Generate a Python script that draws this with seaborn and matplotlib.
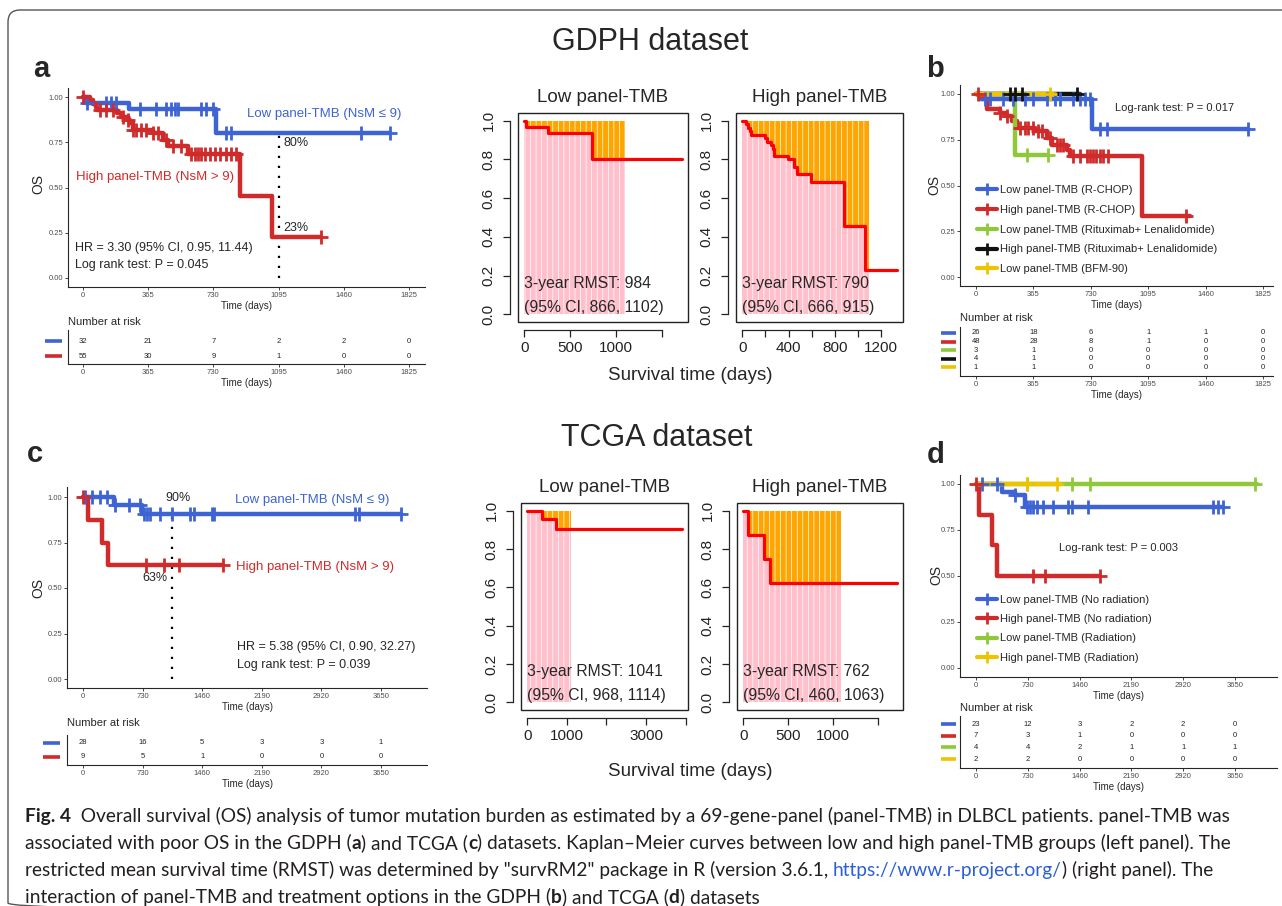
import numpy as np
import matplotlib
matplotlib.use("Agg")
import matplotlib.pyplot as plt
import matplotlib.transforms as mtransforms
from matplotlib.lines import Line2D
from matplotlib.patches import FancyBboxPatch, Rectangle
import seaborn as sns

sns.set_style("ticks")
plt.rcParams["font.family"] = ["Liberation Sans", "DejaVu Sans"]
plt.rcParams["hatch.color"] = "white"
plt.rcParams["hatch.linewidth"] = 0.5

# ==================== data ====================
# Kaplan-Meier steps: start time of each step (days), survival on that step,
# last follow-up time, censoring times
gdph_low_t = [0, 15, 255, 745]
gdph_low_s = [1.0, 0.967, 0.935, 0.80]
gdph_low_end = 1720
gdph_low_cens = [22, 131, 159, 187, 317, 411, 467, 495, 513, 532, 663, 691, 728, 803, 830, 1558, 1717]

gdph_high_t = [0, 37, 54, 71, 79, 193, 213, 250, 264, 278, 391, 448, 477, 590, 880, 1058]
gdph_high_s = [1.0, 0.982, 0.964, 0.945, 0.927, 0.909, 0.891, 0.873, 0.855, 0.82, 0.80, 0.763, 0.727,
               0.685, 0.455, 0.228]
gdph_high_end = 1334
gdph_high_cens = [0, 93, 131, 168, 224, 252, 280, 299, 327, 355, 392, 420, 467, 504, 551, 607, 625, 644,
                  663, 681, 709, 737, 765, 803, 830, 859, 1334]

# GDPH by treatment (panel b)
b_low_rchop_t = [0, 25, 735]
b_low_rchop_s = [1.0, 0.973, 0.81]
b_low_rchop_end = 1730
b_low_rchop_cens = [57, 89, 174, 237, 311, 364, 449, 502, 534, 618, 661, 692, 724, 788, 830, 1730]

b_high_rchop_t = [0, 36, 72, 152, 191, 227, 258, 375, 449, 481, 576, 597, 1057]
b_high_rchop_s = [1.0, 0.975, 0.918, 0.896, 0.878, 0.85, 0.814, 0.796, 0.76, 0.723, 0.696, 0.66, 0.332]
b_high_rchop_end = 1359
b_high_rchop_cens = [10, 152, 195, 279, 311, 332, 364, 396, 417, 470, 512, 534, 555, 618, 661, 703, 724,
                     745, 766, 788, 809, 841, 1338]

b_low_rl_t = [0, 248]
b_low_rl_s = [1.0, 0.667]
b_low_rl_end = 460
b_low_rl_cens = [322, 460]

b_high_rl_t = [0]
b_high_rl_s = [1.0]
b_high_rl_end = 660
b_high_rl_cens = [216, 248, 290, 640]

b_low_bfm_t = [0]
b_low_bfm_s = [1.0]
b_low_bfm_end = 502
b_low_bfm_cens = [470]

# TCGA
tcga_low_t = [0, 376, 723]
tcga_low_s = [1.0, 0.955, 0.904]
tcga_low_end = 3900
tcga_low_cens = [29, 110, 212, 294, 396, 559, 702, 743, 784, 825, 947, 1090, 1315, 1356, 1580, 1600,
                 3336, 3377, 3900]

tcga_high_t = [0, 57, 233, 302]
tcga_high_s = [1.0, 0.875, 0.75, 0.625]
tcga_high_end = 1715
tcga_high_cens = [0, 772, 988, 1172, 1715]

# TCGA by radiation (panel d)
d_low_norad_t = [0, 362, 550, 690]
d_low_norad_s = [1.0, 0.955, 0.94, 0.875]
d_low_norad_end = 3485
d_low_norad_cens = [80, 291, 550, 714, 761, 808, 855, 949, 1090, 1301, 1348, 1583, 3344, 3414, 3485]

d_high_norad_t = [0, 42, 221, 291]
d_high_norad_s = [1.0, 0.833, 0.667, 0.5]
d_high_norad_end = 1747
d_high_norad_cens = [0, 799, 972, 1747]

d_low_rad_t = [0]
d_low_rad_s = [1.0]
d_low_rad_end = 3955
d_low_rad_cens = [714, 1348, 1606, 3932]

d_high_rad_t = [0]
d_high_rad_s = [1.0]
d_high_rad_end = 1183
d_high_rad_cens = [714, 1137]

# numbers at risk
ticks_5y = [0, 365, 730, 1095, 1460, 1825]
ticks_10y = [0, 730, 1460, 2190, 2920, 3650]
risk_a = [[32, 21, 7, 2, 2, 0], [55, 30, 9, 1, 0, 0]]
risk_b = [[26, 18, 6, 1, 1, 0], [48, 28, 8, 1, 0, 0], [3, 1, 0, 0, 0, 0], [4, 1, 0, 0, 0, 0],
          [1, 1, 0, 0, 0, 0]]
risk_c = [[28, 16, 5, 3, 3, 1], [9, 5, 1, 0, 0, 0]]
risk_d = [[23, 12, 3, 2, 2, 0], [7, 3, 1, 0, 0, 0], [4, 4, 2, 1, 1, 1], [2, 2, 0, 0, 0, 0]]

labels_b = ["Low panel-TMB (R-CHOP)", "High panel-TMB (R-CHOP)", "Low panel-TMB (Rituximab+ Lenalidomide)",
            "High panel-TMB (Rituximab+ Lenalidomide)", "Low panel-TMB (BFM-90)"]
labels_d = ["Low panel-TMB (No radiation)", "High panel-TMB (No radiation)", "Low panel-TMB (Radiation)",
            "High panel-TMB (Radiation)"]

TAU = 1095  # 3-year RMST horizon
rmst_gdph = [("Low panel-TMB", "3-year RMST: 984", "(95% CI, 866, 1102)"),
             ("High panel-TMB", "3-year RMST: 790", "(95% CI, 666, 915)")]
rmst_tcga = [("Low panel-TMB", "3-year RMST: 1041", "(95% CI, 968, 1114)"),
             ("High panel-TMB", "3-year RMST: 762", "(95% CI, 460, 1063)")]

# ==================== style ====================
BLUE = "#3D63D4"
RED = "#D02A2A"
GREEN = "#8FC93A"
BLACK = "#111111"
GOLD = "#EEC400"
PINK = "#FFC0CB"
ORANGE = "#FFA500"
TXT = "#4D4D4D"
CAP_FONT = ["Lato", "DejaVu Sans"]

W, H = 1282, 906
fig = plt.figure(figsize=(W / 100, H / 100), dpi=100)

overlay = fig.add_axes([0, 0, 1, 1])
overlay.set_xlim(0, W)
overlay.set_ylim(H, 0)
overlay.axis("off")


def px_axes(left, top, right, bottom):
    return fig.add_axes([left / W, 1 - bottom / H, (right - left) / W, (bottom - top) / H])


def fit_limits(ax, box, x0px, x1px, x1val, y1px, y0px):
    left, top, right, bottom = box
    kx = (x1px - x0px) / x1val
    ax.set_xlim((left - x0px) / kx, (right - x0px) / kx)
    ky = y0px - y1px
    ax.set_ylim((y0px - bottom) / ky, (y0px - top) / ky)


def steps(t, s, end):
    return list(t) + [end], list(s) + [s[-1]]


def surv_at(t, s, x):
    idx = np.searchsorted(t, x, side="right") - 1
    return np.asarray(s)[idx]


def km_panel(box, ref, groups, xticks):
    ax = px_axes(*box)
    for t, s, end, cens, col in groups:
        xs, ys = steps(t, s, end)
        sns.lineplot(x=xs, y=ys, drawstyle="steps-post", estimator=None, sort=False,
                     color=col, lw=3.2, ax=ax)
    for t, s, end, cens, col in groups:
        sns.scatterplot(x=cens, y=surv_at(t, s, cens), marker="+", s=95, color=col,
                        linewidth=2.0, ax=ax, zorder=4)
    fit_limits(ax, box, *ref)
    for sp in ["top", "right"]:
        ax.spines[sp].set_visible(False)
    for sp in ["left", "bottom"]:
        ax.spines[sp].set_linewidth(0.8)
    ax.set_xticks(xticks, [str(v) for v in xticks])
    yt = [0, 0.25, 0.5, 0.75, 1.0]
    ax.set_yticks(yt, [f"{v:.2f}" for v in yt])
    ax.tick_params(labelsize=5.5, labelcolor=TXT, length=2.5, width=0.6, pad=0.8)
    ax.set_xlabel("Time (days)", fontsize=7, labelpad=1.5)
    ax.set_ylabel("")
    return ax


def risk_table(box, xlim, xticks, rows, colors, row0, drow, strip, title_y):
    left, top, right, bottom = box
    ax = px_axes(left, top, right, bottom)
    ax.set_xlim(xlim)
    ax.set_ylim((bottom - row0) / drow, (top - row0) / drow)
    for sp in ["top", "right"]:
        ax.spines[sp].set_visible(False)
    for sp in ["left", "bottom"]:
        ax.spines[sp].set_linewidth(0.8)
    for i, row in enumerate(rows):
        for x, v in zip(xticks, row):
            ax.text(x, i, str(v), ha="center", va="center", fontsize=5.5, color="#222222")
    trans = mtransforms.blended_transform_factory(ax.transAxes, ax.transData)
    sx0 = (strip[0] - left) / (right - left)
    sx1 = (strip[1] - left) / (right - left)
    for i, col in enumerate(colors):
        ax.plot([sx0, sx1], [i, i], transform=trans, color=col, lw=2.6, clip_on=False,
                solid_capstyle="butt")
    ax.set_xticks(xticks, [str(v) for v in xticks])
    ax.set_yticks([])
    ax.tick_params(labelsize=5.5, labelcolor=TXT, length=2.5, width=0.6, pad=0.8)
    ax.set_xlabel("Time (days)", fontsize=7, labelpad=1.5)
    ax.text(0, (bottom - title_y) / (bottom - top), "Number at risk", transform=ax.transAxes,
            ha="left", va="center", fontsize=8)
    return ax


def rmst_panel(box, t, s, end, xticks, xlabels, texts):
    left, top, right, bottom = box
    ax = px_axes(left, top, right, bottom)
    keep = [i for i, ti in enumerate(t) if ti < TAU]
    ft = [t[i] for i in keep] + [TAU]
    fs = [s[i] for i in keep] + [s[keep[-1]]]
    ax.fill_between(ft, 0, fs, step="post", facecolor=PINK, edgecolor="white", hatch="|||", linewidth=0)
    ax.fill_between(ft, fs, 1, step="post", facecolor=ORANGE, edgecolor="white", hatch="|||", linewidth=0)
    xs, ys = steps(t, s, end)
    sns.lineplot(x=xs, y=ys, drawstyle="steps-post", estimator=None, sort=False,
                 color="#FF0000", lw=2.3, ax=ax)
    ax.set_xlim(-0.04 * end, 1.04 * end)
    ax.set_ylim(-0.04, 1.04)
    ax.add_patch(Rectangle((0, 0), 1, 1, transform=ax.transAxes, fill=False, lw=1.0,
                           ec="#222222", clip_on=False, zorder=5))
    for sp in ["top", "right"]:
        ax.spines[sp].set_visible(False)
    for sp in ["left", "bottom"]:
        ax.spines[sp].set_position(("outward", 6))
        ax.spines[sp].set_linewidth(0.9)
    ax.spines["bottom"].set_bounds(xticks[0], xticks[-1])
    ax.spines["left"].set_bounds(0, 1)
    ax.set_xticks(xticks, xlabels)
    yt = [0, 0.2, 0.4, 0.6, 0.8, 1.0]
    ax.set_yticks(yt, [f"{v:.1f}" for v in yt], rotation=90, va="center")
    ax.tick_params(labelsize=11, length=5, width=0.9, pad=3, colors="#222222")
    ax.tick_params(axis="y", pad=5)
    ax.set_xlabel("")
    ax.set_ylabel("")
    title, line1, line2 = texts
    ax.text(0.5, 1 + 16 / (bottom - top), title, transform=ax.transAxes, ha="center",
            va="center", fontsize=13.5)
    ax.text(0, 0.16, line1, fontsize=11.3, va="center")
    ax.text(0, 0.035, line2, fontsize=11.3, va="center")
    return ax


# ==================== panel a ====================
box_a = (68, 88, 425, 287)
ref_a = (83, 409, 1825, 97, 278)
ax_a = km_panel(box_a, ref_a,
                [(gdph_low_t, gdph_low_s, gdph_low_end, gdph_low_cens, BLUE),
                 (gdph_high_t, gdph_high_s, gdph_high_end, gdph_high_cens, RED)], ticks_5y)
ax_a.plot([TAU, TAU], [0, surv_at(gdph_low_t, gdph_low_s, TAU)], ls=(0, (1, 3.5)), color="black",
          lw=1.6, zorder=1)
ax_a.text(918, 0.906, "Low panel-TMB (NsM ≤ 9)", color=BLUE, fontsize=9.5, va="center")
ax_a.text(-39, 0.558, "High panel-TMB (NsM > 9)", color=RED, fontsize=9.5, va="center")
ax_a.text(1125, 0.746, "80%", fontsize=9, va="center")
ax_a.text(1120, 0.276, "23%", fontsize=9, va="center")
ax_a.text(-45, 0.166, "HR = 3.30 (95% CI, 0.95, 11.44)", fontsize=9, va="center")
ax_a.text(-45, 0.072, "Log rank test: P = 0.045", fontsize=9, va="center")
risk_table((68, 330, 425, 364), ax_a.get_xlim(), ticks_5y, risk_a, [BLUE, RED], 341, 15, (45, 62), 322)

# ==================== panel b ====================
box_b = (960, 85, 1273, 286)
ref_b = (976, 1263, 1825, 94, 277)
groups_b = [(b_low_rchop_t, b_low_rchop_s, b_low_rchop_end, b_low_rchop_cens, BLUE),
            (b_high_rchop_t, b_high_rchop_s, b_high_rchop_end, b_high_rchop_cens, RED),
            (b_low_rl_t, b_low_rl_s, b_low_rl_end, b_low_rl_cens, GREEN),
            (b_high_rl_t, b_high_rl_s, b_high_rl_end, b_high_rl_cens, BLACK),
            (b_low_bfm_t, b_low_bfm_s, b_low_bfm_end, b_low_bfm_cens, GOLD)]
ax_b = km_panel(box_b, ref_b, groups_b, ticks_5y)
ax_b.text(884, 0.923, "Log-rank test: P = 0.017", fontsize=8, va="center")
handles = [Line2D([0], [0], color=g[4], lw=3, marker="+", ms=9, mew=2) for g in groups_b]
ax_b.legend(handles, labels_b, loc="center left", bbox_to_anchor=(0.054, 0.28), frameon=False,
            fontsize=8, borderpad=0, borderaxespad=0, handlelength=1.8, handletextpad=0.3,
            labelspacing=0.88)
risk_table((960, 327, 1273, 376), ax_b.get_xlim(), ticks_5y, risk_b, [BLUE, RED, GREEN, BLACK, GOLD],
           333, 8.6, (941, 956), 318)

# ==================== panel c ====================
box_c = (67, 487, 427, 688)
ref_c = (83, 381, 3650, 497, 679)
ax_c = km_panel(box_c, ref_c,
                [(tcga_low_t, tcga_low_s, tcga_low_end, tcga_low_cens, BLUE),
                 (tcga_high_t, tcga_high_s, tcga_high_end, tcga_high_cens, RED)], ticks_10y)
ax_c.plot([TAU, TAU], [0, surv_at(tcga_low_t, tcga_low_s, TAU)], ls=(0, (1, 3.5)), color="black",
          lw=1.6, zorder=1)
ax_c.text(1862, 0.985, "Low panel-TMB (NsM ≤ 9)", color=BLUE, fontsize=9.5, va="center")
ax_c.text(1874, 0.615, "High panel-TMB (NsM > 9)", color=RED, fontsize=9.5, va="center")
ax_c.text(1164, 0.995, "90%", fontsize=9, va="center", ha="center")
ax_c.text(882, 0.555, "63%", fontsize=9, va="center", ha="center")
ax_c.text(1886, 0.176, "HR = 5.38 (95% CI, 0.90, 32.27)", fontsize=9, va="center")
ax_c.text(1886, 0.077, "Log rank test: P = 0.039", fontsize=9, va="center")
risk_table((67, 735, 427, 765), ax_c.get_xlim(), ticks_10y, risk_c, [BLUE, RED], 743, 14, (43, 60), 723)

# ==================== panel d ====================
box_d = (960, 475, 1277, 677)
ref_d = (976, 1235, 3650, 484, 668)
groups_d = [(d_low_norad_t, d_low_norad_s, d_low_norad_end, d_low_norad_cens, BLUE),
            (d_high_norad_t, d_high_norad_s, d_high_norad_end, d_high_norad_cens, RED),
            (d_low_rad_t, d_low_rad_s, d_low_rad_end, d_low_rad_cens, GREEN),
            (d_high_rad_t, d_high_rad_s, d_high_rad_end, d_high_rad_cens, GOLD)]
ax_d = km_panel(box_d, ref_d, groups_d, ticks_10y)
ax_d.text(1170, 0.652, "Log-rank test: P = 0.003", fontsize=8, va="center")
handles = [Line2D([0], [0], color=g[4], lw=3, marker="+", ms=9, mew=2) for g in groups_d]
ax_d.legend(handles, labels_d, loc="center left", bbox_to_anchor=(0.054, 0.238), frameon=False,
            fontsize=8, borderpad=0, borderaxespad=0, handlelength=1.8, handletextpad=0.3,
            labelspacing=0.82)
risk_table((960, 716, 1277, 768), ax_d.get_xlim(), ticks_10y, risk_d, [BLUE, RED, GREEN, GOLD],
           724, 11.7, (941, 956), 708)

# ==================== RMST panels ====================
rmst_panel((518, 113, 688, 322), gdph_low_t, gdph_low_s, gdph_low_end,
           [0, 500, 1000, 1500], ["0", "500", "1000", ""], rmst_gdph[0])
rmst_panel((736, 113, 903, 322), gdph_high_t, gdph_high_s, gdph_high_end,
           [0, 200, 400, 600, 800, 1000, 1200], ["0", "", "400", "", "800", "", "1200"], rmst_gdph[1])
rmst_panel((521, 503, 688, 710), tcga_low_t, tcga_low_s, tcga_low_end,
           [0, 1000, 2000, 3000, 4000], ["0", "1000", "", "3000", ""], rmst_tcga[0])
rmst_panel((737, 503, 903, 710), tcga_high_t, tcga_high_s, tcga_high_end,
           [0, 500, 1000, 1500], ["0", "500", "1000", ""], rmst_tcga[1])

# ==================== overlay text ====================
overlay.add_patch(FancyBboxPatch((8, 10), 1320, 905, boxstyle="round,pad=0,rounding_size=12",
                                 fill=False, ec="#555555", lw=1.0, clip_on=False))
overlay.text(650, 42, "GDPH dataset", fontsize=22, ha="center", va="center")
overlay.text(657, 438, "TCGA dataset", fontsize=22, ha="center", va="center")
for letter, x, y in [("a", 41, 77), ("b", 935, 77), ("c", 35, 462), ("d", 936, 463)]:
    overlay.text(x, y, letter, fontsize=21, fontweight="bold", ha="center", va="baseline")
for x, y in [(38, 184), (934, 185), (38, 588), (936, 575)]:
    overlay.text(x, y, "OS", fontsize=10, rotation=90, ha="center", va="center")
overlay.text(690, 376, "Survival time (days)", fontsize=13.5, ha="center", va="center")
overlay.text(690, 772, "Survival time (days)", fontsize=13.5, ha="center", va="center")

renderer = fig.canvas.get_renderer()


def text_width(s, **kw):
    t = overlay.text(0, 0, s, **kw)
    w = t.get_window_extent(renderer).width
    t.remove()
    return w


def rich_line(x, y, parts, size):
    for txt, bold, col in parts:
        kw = dict(fontsize=size, fontweight="bold" if bold else "normal", family=CAP_FONT)
        overlay.text(x, y, txt, color=col, va="baseline", ha="left", **kw)
        x += text_width("X" + txt + "X", **kw) - text_width("XX", **kw)


K = "#231F20"
LINK = "#2B5FD9"
cap_size = 13.75
rich_line(25, 822, [("Fig. 4", True, K),
                    ("  Overall survival (OS) analysis of tumor mutation burden as estimated by a "
                     "69-gene-panel (panel-TMB) in DLBCL patients. panel-TMB was", False, K)], cap_size)
rich_line(25, 849, [("associated with poor OS in the GDPH (", False, K), ("a", True, K),
                    (") and TCGA (", False, K), ("c", True, K),
                    (") datasets. Kaplan–Meier curves between low and high panel-TMB groups (left panel). The",
                     False, K)], cap_size)
rich_line(25, 876, [("restricted mean survival time (RMST) was determined by \"survRM2\" package in R "
                     "(version 3.6.1, ", False, K), ("https://www.r-project.org/", False, LINK),
                    (") (right panel). The", False, K)], cap_size)
rich_line(25, 903, [("interaction of panel-TMB and treatment options in the GDPH (", False, K),
                    ("b", True, K), (") and TCGA (", False, K), ("d", True, K),
                    (") datasets", False, K)], cap_size)

fig.savefig("out.png", dpi=100)
